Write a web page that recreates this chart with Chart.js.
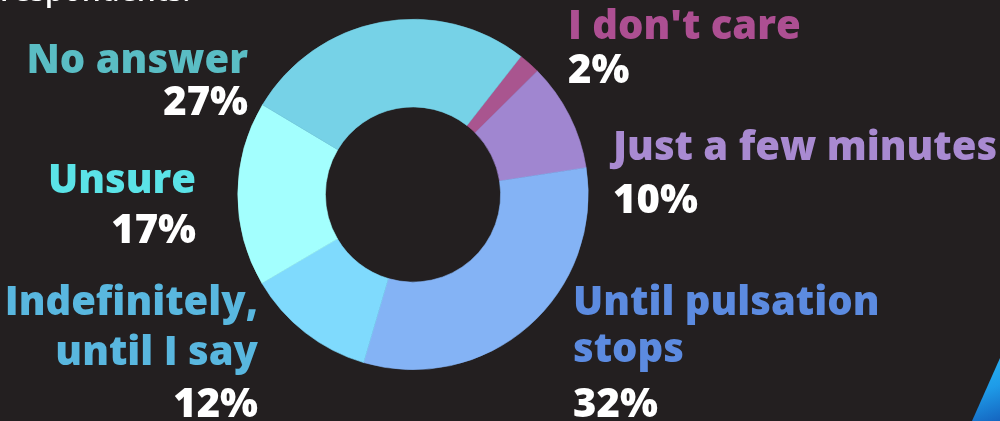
<!DOCTYPE html>
<html>
<head>
<meta charset="utf-8">
<script src="https://cdn.jsdelivr.net/npm/chart.js@4"></script>
<style>
  html, body { margin: 0; padding: 0; background: #231f20; overflow: hidden; }
  #wrap { position: relative; width: 1000px; height: 421px; }
  #corner {
    position: absolute; right: 0; bottom: 0; width: 28px; height: 63px;
    background: linear-gradient(160deg, #29b6f6 0%, #1e9be8 50%, #1565c0 100%);
    clip-path: polygon(100% 0, 100% 100%, 0 100%);
  }
  #intro {
    position: absolute; left: 0; top: -31px; margin: 0;
    font: 600 30px "Open Sans", sans-serif; color: #ffffff; white-space: nowrap;
  }
</style>
</head>
<body>
<div id="wrap">
  <p id="intro">respondents.</p>
  <canvas id="durationChart" width="1000" height="421"></canvas>
  <div id="corner"></div>
</div>
<script>
// 各選項（順時針，從「I don't care」開始）
const categories = [
  "I don't care",
  "Just a few minutes",
  ["Until pulsation", "stops"],
  ["Indefinitely,", "until I say"],
  "Unsure",
  "No answer",
];
const shares = [2, 10, 32, 12, 17, 27];

const sliceColors = ["#a9558f", "#a086d0", "#84b3f5", "#7fdafd", "#a3fffe", "#76d2e7"];
const labelColors = ["#ad4f92", "#a98ad1", "#5c8be0", "#59b7df", "#5be3e7", "#5abdc4"];

// 標籤擺放位置（版面用）
const labelLayout = [
  { x: 568, align: "left", lines: [39], pct: 83 },
  { x: 613, align: "left", lines: [160], pct: 213 },
  { x: 573, align: "left", lines: [315, 362], pct: 417 },
  { x: 258, align: "right", lines: [315, 365], pct: 417 },
  { x: 196, align: "right", lines: [193], pct: 243 },
  { x: 248, align: "right", lines: [73], pct: 115 },
];

const sliceLabels = {
  id: "sliceLabels",
  afterDraw(chart) {
    const ctx = chart.ctx;
    const total = shares.reduce((a, b) => a + b, 0);
    ctx.save();
    ctx.font = '800 40px "Open Sans"';
    ctx.textBaseline = "alphabetic";
    categories.forEach((cat, i) => {
      const pos = labelLayout[i];
      const lines = Array.isArray(cat) ? cat : [cat];
      ctx.textAlign = pos.align;
      ctx.fillStyle = labelColors[i];
      lines.forEach((line, j) => ctx.fillText(line, pos.x, pos.lines[j]));
      ctx.fillStyle = "#ffffff";
      ctx.fillText(Math.round((shares[i] / total) * 100) + "%", pos.x, pos.pct);
    });
    ctx.restore();
  },
};

const ctx = document.getElementById("durationChart").getContext("2d");
new Chart(ctx, {
  type: "doughnut",
  data: {
    labels: categories,
    datasets: [
      {
        data: shares,
        backgroundColor: sliceColors,
        borderColor: sliceColors, // 邊框同色，避免縫隙
        borderWidth: 0.6,
      },
    ],
  },
  options: {
    responsive: false,
    animation: false,
    rotation: 38, // 起始角度
    cutout: "50%",
    layout: {
      padding: { top: 19, bottom: 51, left: 237.5, right: 411.5 },
    },
    plugins: {
      legend: { display: false },
      tooltip: { enabled: false },
    },
  },
  plugins: [sliceLabels],
});
</script>
</body>
</html>
